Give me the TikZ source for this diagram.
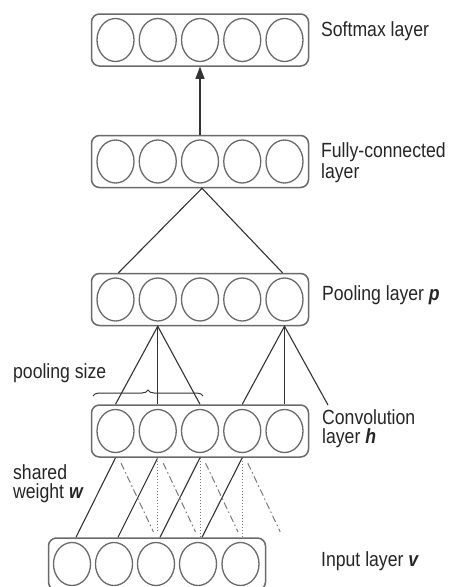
\documentclass[tikz,border=0pt]{standalone}
\usepackage{fontspec}
\setmainfont{Liberation Sans}
\usetikzlibrary{shapes.geometric,arrows.meta,decorations.pathreplacing,calc}
\definecolor{unitgray}{HTML}{6A6A6A}
\definecolor{linkgray}{HTML}{333333}
\definecolor{dashgray}{HTML}{7A7A7A}
\definecolor{textgray}{HTML}{262626}
\begin{document}
\begin{tikzpicture}[x=1pt,y=-1pt,
  unit/.style={ellipse,draw=unitgray,line width=1.3pt,minimum width=37pt,minimum height=43pt,inner sep=0pt},
  layerbox/.style={draw=unitgray,line width=1.5pt,rounded corners=8pt,minimum width=217pt,minimum height=52pt,inner sep=0pt},
  link/.style={draw=linkgray,line width=1.1pt},
  tiedlink/.style={draw=dashgray,line width=1pt,dotted},
  shiftlink/.style={draw=dashgray,line width=1pt,dash pattern=on 7pt off 3pt on 1.5pt off 3pt},
  layertext/.style={font=\fontsize{20.5}{18.5}\selectfont,xscale=0.86,anchor=base west,inner sep=0pt,align=left,text=textgray}]
\useasboundingbox (0,0) rectangle (448,587);
\fill[white] (0,0) rectangle (448,587);
\clip (0,0) rectangle (448,587);

% layer frames
\node[layerbox] (S) at (200,40) {};
\node[layerbox] (F) at (200,161.5) {};
\node[layerbox] (P) at (200,299.5) {};
\node[layerbox] (C) at (200,431) {};
\node[layerbox] (V) at (157,564) {};

% units of each layer
\foreach \i/\x in {1/115.5,2/157.75,3/200,4/242.25,5/284.5} {
  \node[unit] (s\i) at (\x,40) {};
  \node[unit] (f\i) at (\x,161.5) {};
  \node[unit] (p\i) at (\x,299.5) {};
  \node[unit] (c\i) at (\x,431) {};
}
\foreach \i/\x in {1/72,2/114,3/156,4/198,5/240.5} {
  \node[unit] (v\i) at (\x,564) {};
}
\coordinate (ptail) at (328,405);
\coordinate (vtail) at ($(V.north -| v5)+(42.25,0)$);

% fully-connected -> softmax
\draw[link,-{Triangle[length=12pt,width=9pt]}] (F.north -| f3) -- (S.south -| s3);

% pooling -> fully-connected
\draw[link] ($(P.north -| p1)+(3,0)$) -- ($(F.south)+(2,0)$) -- ($(P.north -| p5)+(-2,0)$);

% convolution -> pooling
\draw[link] (C.north -| c1) -- (P.south -| p2) -- (C.north -| c3);
\draw[link] (P.south -| p2) -- (C.north -| c2);
\draw[link] (C.north -| c4) -- (P.south -| p5) -- (ptail);
\draw[link] (P.south -| p5) -- (C.north -| c5);

% input -> convolution, shared weights
\foreach \i in {1,2,3,4} {
  \draw[link] (C.south -| c\i) -- ($(V.north -| v\i)+(4,0)$);
}
\draw[tiedlink,shorten >=5pt] (C.south -| c2) -- (V.north -| c2);
\draw[tiedlink] (C.south -| c3) -- (V.north -| c3);
\draw[tiedlink] (C.south -| c4) -- (V.north -| c4);
\draw[shiftlink,shorten <=6pt,shorten >=6pt] ($(C.south -| c1)+(3,0)$) -- (V.north -| v3);
\draw[shiftlink,shorten <=6pt,shorten >=6pt] ($(C.south -| c2)+(3,0)$) -- (V.north -| v4);
\draw[shiftlink,shorten <=6pt,shorten >=6pt] ($(C.south -| c3)+(3,0)$) -- (V.north -| v5);
\draw[shiftlink,shorten <=6pt,shorten >=6pt] ($(C.south -| c4)+(3,0)$) -- (vtail);

% pooling size brace
\draw[linkgray,line width=1pt,decorate,decoration={brace,amplitude=6pt}] (93,396) -- (203,396);

% labels (base anchor sits on the last line of a two-line label)
\node[layertext] (tsoft) at (321,36) {Softmax layer};
\node[layertext] (tfull) at (321,178) {Fully-connected\\layer};
\node[layertext] (tpool) at (322,300) {Pooling layer \textbf{\textit{p}}};
\node[layertext] (tsize) at (13,378) {pooling size};
\node[layertext] (tconv) at (322,443) {Convolution\\layer \textbf{\textit{h}}};
\node[layertext] (tshare) at (13,498) {shared\\weight \textbf{\textit{w}}};
\node[layertext] (tinput) at (321,566) {Input layer \textbf{\textit{v}}};
\end{tikzpicture}
\end{document}
